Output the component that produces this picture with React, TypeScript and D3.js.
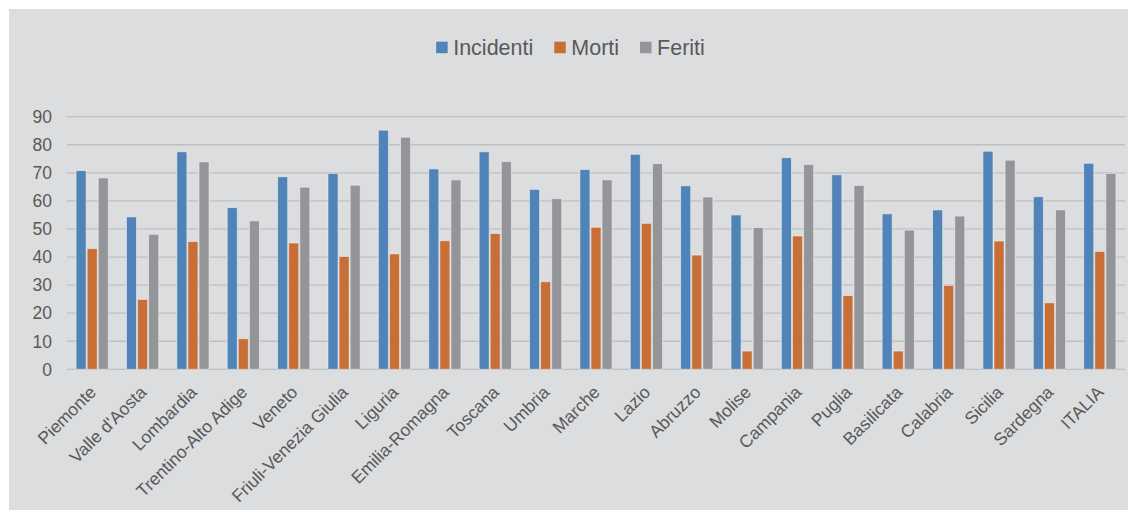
import React, { useEffect, useRef } from 'react'
import * as d3 from 'd3'

const regions = [
  'Piemonte',
  "Valle d'Aosta",
  'Lombardia',
  'Trentino-Alto Adige',
  'Veneto',
  'Friuli-Venezia Giulia',
  'Liguria',
  'Emilia-Romagna',
  'Toscana',
  'Umbria',
  'Marche',
  'Lazio',
  'Abruzzo',
  'Molise',
  'Campania',
  'Puglia',
  'Basilicata',
  'Calabria',
  'Sicilia',
  'Sardegna',
  'ITALIA',
]

const incidenti = [70.8, 54.3, 77.5, 57.6, 68.6, 69.8, 85.2, 71.4, 77.5, 64.1, 71.2, 76.6, 65.4, 55.0, 75.4, 69.3, 55.4, 56.8, 77.7, 61.5, 73.4]
const morti = [43.0, 24.9, 45.5, 10.9, 45.0, 40.2, 41.1, 45.8, 48.4, 31.2, 50.6, 52.0, 40.7, 6.5, 47.5, 26.3, 6.5, 29.9, 45.7, 23.7, 42.0]
const feriti = [68.2, 48.1, 73.9, 52.9, 64.9, 65.6, 82.7, 67.5, 74.0, 60.8, 67.5, 73.3, 61.4, 50.5, 73.0, 65.5, 49.6, 54.6, 74.5, 56.8, 69.8]

const seriesNames = ['Incidenti', 'Morti', 'Feriti']
const seriesColors = ['#5083b7', '#c86e37', '#949599']
const yTicks = [0, 10, 20, 30, 40, 50, 60, 70, 80, 90]

export default function App() {
  const ref = useRef<SVGSVGElement>(null)

  useEffect(() => {
    const svg = d3.select(ref.current)
    svg.selectAll('*').remove()

    const W = 1128
    const H = 515
    const margin = { top: 116.7, right: 3, bottom: 145.7, left: 67 }
    const textColor = '#595959'
    const font = 'Arial, "Liberation Sans", sans-serif'

    // panel
    svg
      .append('rect')
      .attr('x', 9)
      .attr('y', 9)
      .attr('width', W - 9)
      .attr('height', 501)
      .attr('fill', '#dcdddf')

    const x0 = d3
      .scaleBand()
      .domain(regions)
      .range([margin.left, W - margin.right])
      .paddingInner(0.34)
      .paddingOuter(0.17)
    const x1 = d3
      .scaleBand()
      .domain(seriesNames)
      .range([0, x0.bandwidth()])
    const y = d3
      .scaleLinear()
      .domain([0, 90])
      .range([H - margin.bottom, margin.top])

    // gridlines
    svg
      .append('g')
      .selectAll('line')
      .data(yTicks)
      .enter()
      .append('line')
      .attr('x1', margin.left)
      .attr('x2', W - margin.right)
      .attr('y1', (d) => y(d))
      .attr('y2', (d) => y(d))
      .attr('stroke', '#bebfc1')
      .attr('stroke-width', 1.3)

    // y labels
    svg
      .append('g')
      .selectAll('text')
      .data(yTicks)
      .enter()
      .append('text')
      .attr('x', 52)
      .attr('y', (d) => y(d))
      .attr('dy', '0.36em')
      .attr('text-anchor', 'end')
      .attr('fill', textColor)
      .style('font-family', font)
      .style('font-size', '17.5px')
      .text((d) => d)

    // bars
    const series = [incidenti, morti, feriti]
    series.forEach((values, si) => {
      svg
        .append('g')
        .selectAll('rect')
        .data(values)
        .enter()
        .append('rect')
        .attr('x', (d, i) => x0(regions[i])! + x1(seriesNames[si])! + 0.5)
        .attr('y', (d) => y(d))
        .attr('width', x1.bandwidth() - 1)
        .attr('height', (d) => y(0) - y(d))
        .attr('fill', seriesColors[si])
        .attr('stroke', '#eef0f2')
        .attr('stroke-opacity', 0.6)
        .attr('stroke-width', 1)
    })

    // x labels
    svg
      .append('g')
      .selectAll('text')
      .data(regions)
      .enter()
      .append('text')
      .attr(
        'transform',
        (d) => `translate(${x0(d)! + x0.bandwidth() / 2 + 5}, ${y(0) + 24}) rotate(-45)`,
      )
      .attr('text-anchor', 'end')
      .attr('fill', textColor)
      .style('font-family', font)
      .style('font-size', '17.5px')
      .text((d) => d)

    // legend
    const legend = svg.append('g')
    let lx = 0
    seriesNames.forEach((name, i) => {
      const g = legend.append('g').attr('transform', `translate(${lx}, 0)`)
      g.append('rect')
        .attr('x', 0)
        .attr('y', 41.7)
        .attr('width', 11.5)
        .attr('height', 11.5)
        .attr('fill', seriesColors[i])
      const t = g
        .append('text')
        .attr('x', 17)
        .attr('y', 55)
        .attr('fill', textColor)
        .style('font-family', font)
        .style('font-size', '21.5px')
        .text(name)
      const tw = (t.node() as SVGTextElement).getComputedTextLength()
      lx += 17 + tw + 21
    })
    const totalW = lx - 21
    legend.attr('transform', `translate(${570.5 - totalW / 2}, 0)`)
  }, [])

  return (
    <div style={{ position: 'absolute', left: 0, top: 0 }}>
      <svg ref={ref} width={1128} height={515} style={{ display: 'block', background: '#ffffff' }} />
    </div>
  )
}
